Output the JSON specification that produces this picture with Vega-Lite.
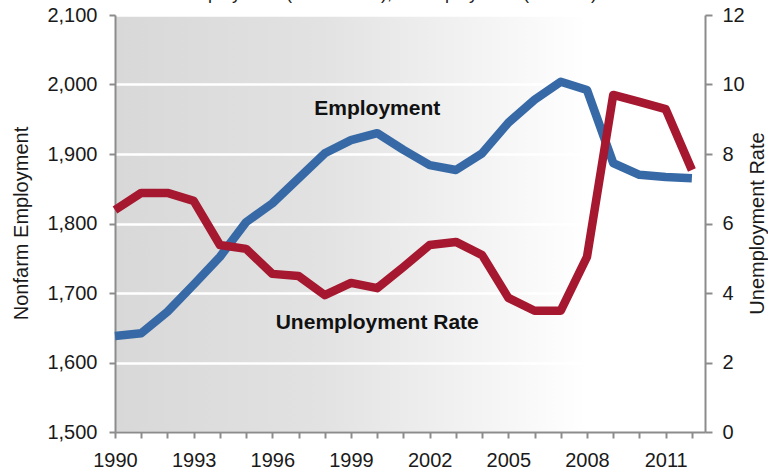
{
  "$schema": "https://vega.github.io/schema/vega-lite/v6.json",
  "autosize": {"type": "none"},
  "width": 590,
  "height": 417,
  "padding": {"left": 115, "right": 63, "top": 15, "bottom": 38},
  "background": "white",
  "title": {
    "text": "Employment (Thousands), Unemployment (Percent)",
    "fontSize": 18,
    "fontWeight": "normal",
    "font": "Liberation Sans",
    "color": "#222222",
    "baseline": "alphabetic",
    "offset": -12,
    "dx": -21
  },
  "config": {
    "font": "Liberation Sans",
    "view": {
      "stroke": null,
      "fill": {
        "gradient": "linear",
        "x1": 0, "y1": 0, "x2": 1, "y2": 0,
        "stops": [
          {"offset": 0, "color": "#d8d8d8"},
          {"offset": 0.35, "color": "#e2e2e2"},
          {"offset": 0.8, "color": "#ffffff"},
          {"offset": 1, "color": "#ffffff"}
        ]
      }
    },
    "axis": {
      "labelFont": "Liberation Sans",
      "titleFont": "Liberation Sans",
      "labelFontSize": 20,
      "titleFontSize": 20,
      "labelColor": "#1a1a1a",
      "titleColor": "#1a1a1a",
      "titleFontWeight": "normal",
      "domainColor": "#8c8c8c",
      "domainWidth": 2,
      "tickColor": "#8c8c8c",
      "tickWidth": 2,
      "tickSize": 6
    }
  },
  "datasets": {
    "series": [
      {"year": 1990, "emp": 1638, "unemp": 6.39},
      {"year": 1991, "emp": 1642, "unemp": 6.88},
      {"year": 1992, "emp": 1673, "unemp": 6.88},
      {"year": 1993, "emp": 1712, "unemp": 6.65},
      {"year": 1994, "emp": 1752, "unemp": 5.38},
      {"year": 1995, "emp": 1802, "unemp": 5.27},
      {"year": 1996, "emp": 1829, "unemp": 4.55},
      {"year": 1997, "emp": 1865, "unemp": 4.49},
      {"year": 1998, "emp": 1901, "unemp": 3.94},
      {"year": 1999, "emp": 1920, "unemp": 4.29},
      {"year": 2000, "emp": 1930, "unemp": 4.14},
      {"year": 2001, "emp": 1906, "unemp": 4.75},
      {"year": 2002, "emp": 1884, "unemp": 5.38},
      {"year": 2003, "emp": 1877, "unemp": 5.47},
      {"year": 2004, "emp": 1901, "unemp": 5.09},
      {"year": 2005, "emp": 1945, "unemp": 3.86},
      {"year": 2006, "emp": 1978, "unemp": 3.49},
      {"year": 2007, "emp": 2004, "unemp": 3.49},
      {"year": 2008, "emp": 1992, "unemp": 5.04},
      {"year": 2009, "emp": 1887, "unemp": 9.7},
      {"year": 2010, "emp": 1870, "unemp": 9.5},
      {"year": 2011, "emp": 1867, "unemp": 9.29},
      {"year": 2012, "emp": 1865, "unemp": 7.54}
    ],
    "labels": [
      {"year": 2000, "emp": 1965, "label": "Employment"},
      {"year": 2000, "emp": 1657, "label": "Unemployment Rate"}
    ]
  },
  "encoding": {
    "x": {
      "field": "year",
      "type": "quantitative",
      "scale": {"domain": [1990, 2012.5], "nice": false, "zero": false},
      "axis": {
        "title": null,
        "grid": false,
        "values": [1990,1991,1992,1993,1994,1995,1996,1997,1998,1999,2000,2001,2002,2003,2004,2005,2006,2007,2008,2009,2010,2011,2012],
        "labelExpr": "(datum.value - 1990) % 3 == 0 ? datum.value : ''",
        "labelPadding": 12,
        "labelOverlap": false,
        "labelFlush": false
      }
    }
  },
  "layer": [
    {
      "layer": [
        {
          "data": {"name": "series"},
          "mark": {"type": "line", "color": "#3769a6", "strokeWidth": 8.5, "strokeJoin": "round", "strokeCap": "butt"},
          "encoding": {
            "y": {
              "field": "emp",
              "type": "quantitative",
              "scale": {"domain": [1500, 2100], "nice": false, "zero": false},
              "axis": {
                "title": "Nonfarm Employment",
                "orient": "left",
                "values": [1500, 1600, 1700, 1800, 1900, 2000, 2100],
                "format": ",d",
                "grid": true,
                "gridColor": "#ffffff",
                "gridWidth": 2.5,
                "labelPadding": 12,
                "titleX": -94,
                "titleY": 208,
                "titleAngle": 270,
                "titleAlign": "center",
                "titleBaseline": "middle"
              }
            }
          }
        },
        {
          "data": {"name": "labels"},
          "mark": {"type": "text", "fontSize": 21, "fontWeight": "bold", "font": "Liberation Sans", "color": "#111111", "align": "center", "baseline": "middle"},
          "encoding": {
            "y": {
              "field": "emp",
              "type": "quantitative",
              "scale": {"domain": [1500, 2100], "nice": false, "zero": false},
              "axis": {
                "title": "Nonfarm Employment",
                "orient": "left",
                "values": [1500, 1600, 1700, 1800, 1900, 2000, 2100],
                "format": ",d",
                "grid": true,
                "gridColor": "#ffffff",
                "gridWidth": 2.5,
                "labelPadding": 12,
                "titleX": -94,
                "titleY": 208,
                "titleAngle": 270,
                "titleAlign": "center",
                "titleBaseline": "middle"
              }
            },
            "text": {"field": "label", "type": "nominal"}
          }
        }
      ]
    },
    {
      "data": {"name": "series"},
      "mark": {"type": "line", "color": "#a5182f", "strokeWidth": 8.5, "strokeJoin": "round", "strokeCap": "butt"},
      "encoding": {
        "y": {
          "field": "unemp",
          "type": "quantitative",
          "scale": {"domain": [0, 12], "nice": false},
          "axis": {
            "title": "Unemployment Rate",
            "orient": "right",
            "values": [0, 2, 4, 6, 8, 10, 12],
            "grid": false,
            "tickSize": 7,
            "labelPadding": 10,
            "titleX": 52,
            "titleY": 208,
            "titleAngle": 270,
            "titleAlign": "center",
            "titleBaseline": "middle"
          }
        }
      }
    }
  ],
  "resolve": {"scale": {"y": "independent"}}
}
